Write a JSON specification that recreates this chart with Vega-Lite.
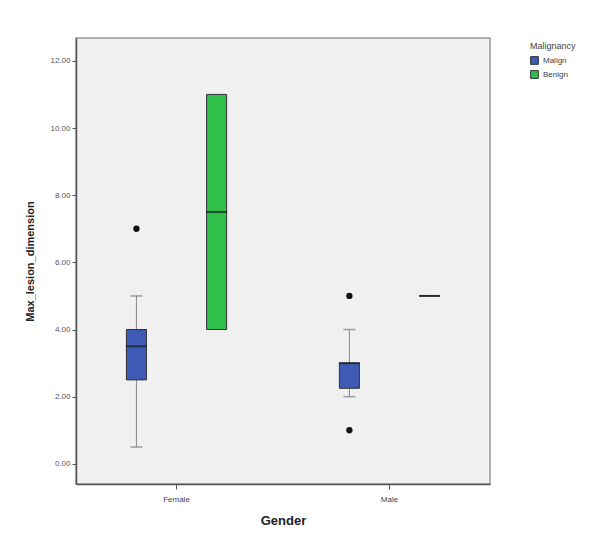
{
  "$schema": "https://vega.github.io/schema/vega-lite/v6.json",
  "autosize": {"type": "none"},
  "width": 414,
  "height": 446,
  "padding": {"left": 76, "top": 38, "right": 104, "bottom": 68},
  "background": "white",
  "config": {
    "view": {"fill": "#f0f0f0", "stroke": "#999999", "strokeWidth": 1.5},
    "font": "Liberation Sans"
  },
  "datasets": {
    "boxes": [
      {"Gender": "Female", "Malignancy": "Malign", "lower": 0.5, "q1": 2.5, "median": 3.5, "q3": 4.0, "upper": 5.0},
      {"Gender": "Female", "Malignancy": "Benign", "lower": 4.0, "q1": 4.0, "median": 7.5, "q3": 11.0, "upper": 11.0},
      {"Gender": "Male", "Malignancy": "Malign", "lower": 2.0, "q1": 2.25, "median": 3.0, "q3": 3.0, "upper": 4.0},
      {"Gender": "Male", "Malignancy": "Benign", "lower": 5.0, "q1": 5.0, "median": 5.0, "q3": 5.0, "upper": 5.0}
    ],
    "outliers": [
      {"Gender": "Female", "Malignancy": "Malign", "value": 7.0},
      {"Gender": "Male", "Malignancy": "Malign", "value": 5.0},
      {"Gender": "Male", "Malignancy": "Malign", "value": 1.0}
    ]
  },
  "encoding": {
    "x": {
      "field": "Gender", "type": "nominal",
      "scale": {"domain": ["Female", "Male"], "paddingInner": 0.2, "paddingOuter": 0.072},
      "axis": {
        "title": "Gender", "titleFontSize": 13, "titleFontWeight": "bold", "titleColor": "#222222",
        "titlePadding": 11, "labelAngle": 0, "labelFontSize": 8, "labelColor": "#444444",
        "domainColor": "#555555", "domainWidth": 1.5, "tickColor": "#555555", "tickSize": 5, "labelPadding": 6
      }
    },
    "xOffset": {
      "field": "Malignancy", "type": "nominal",
      "scale": {"domain": ["Malign", "Benign"], "paddingInner": 0.75, "paddingOuter": 0.4375}
    }
  },
  "layer": [
    {
      "data": {"name": "boxes"},
      "mark": {"type": "rule", "color": "#888888", "strokeWidth": 1},
      "encoding": {
        "y": {"field": "lower", "type": "quantitative"},
        "y2": {"field": "upper"}
      }
    },
    {
      "data": {"name": "boxes"},
      "mark": {"type": "tick", "color": "#777777", "size": 12, "thickness": 1.5},
      "encoding": {"y": {"field": "lower", "type": "quantitative"}},
      "transform": [{"filter": "datum.lower < datum.q1"}]
    },
    {
      "data": {"name": "boxes"},
      "mark": {"type": "tick", "color": "#777777", "size": 12, "thickness": 1.5},
      "encoding": {"y": {"field": "upper", "type": "quantitative"}},
      "transform": [{"filter": "datum.upper > datum.q3"}]
    },
    {
      "data": {"name": "boxes"},
      "mark": {"type": "bar", "stroke": "#333333", "strokeWidth": 1},
      "encoding": {
        "y": {
          "field": "q1", "type": "quantitative",
          "scale": {"domain": [-0.6, 12.68], "nice": false, "zero": false},
          "axis": {
            "title": "Max_lesion_dimension", "titleFontSize": 11, "titleFontWeight": "bold", "titleColor": "#222222",
            "titlePadding": 14, "values": [0, 2, 4, 6, 8, 10, 12], "format": ".2f",
            "labelFontSize": 8, "labelColor": "#555555", "grid": false,
            "domainColor": "#555555", "domainWidth": 1.5, "tickColor": "#555555", "tickSize": 4, "labelPadding": 2
          }
        },
        "y2": {"field": "q3"},
        "color": {
          "field": "Malignancy", "type": "nominal",
          "scale": {"domain": ["Malign", "Benign"], "range": ["#3d5ab4", "#2fbf4a"]},
          "legend": {
            "title": "Malignancy", "orient": "right", "offset": 36, "titleFontSize": 9, "titleFontWeight": "normal",
            "titleColor": "#444444", "labelFontSize": 8, "labelColor": "#444444", "symbolType": "square",
            "symbolSize": 60, "symbolStrokeColor": "#333333", "symbolStrokeWidth": 1, "rowPadding": 1,
            "padding": 4
          }
        }
      }
    },
    {
      "data": {"name": "boxes"},
      "mark": {"type": "tick", "color": "#1a1a1a", "size": 21, "thickness": 2},
      "encoding": {"y": {"field": "median", "type": "quantitative"}}
    },
    {
      "data": {"name": "outliers"},
      "mark": {"type": "point", "filled": true, "color": "#111111", "size": 40, "opacity": 1},
      "encoding": {"y": {"field": "value", "type": "quantitative"}}
    }
  ]
}
